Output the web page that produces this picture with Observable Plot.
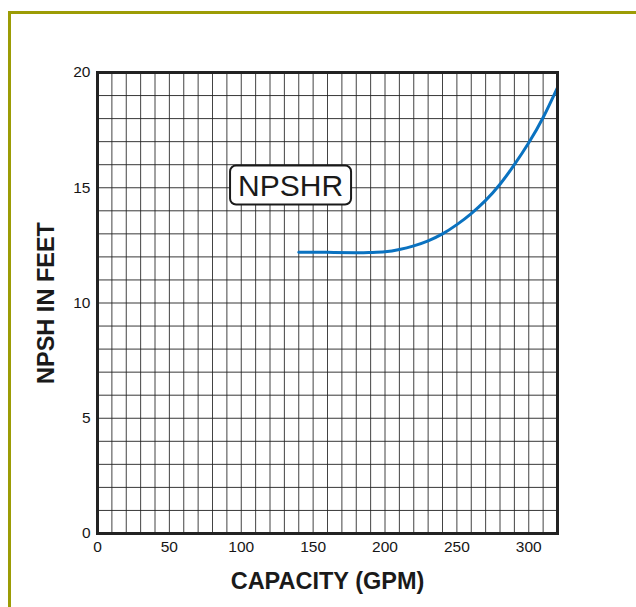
<!DOCTYPE html>
<html>
<head>
<meta charset="utf-8">
<script src="https://cdn.jsdelivr.net/npm/d3@7"></script>
<script src="https://cdn.jsdelivr.net/npm/@observablehq/plot@0.6"></script>
<style>
  html, body { margin: 0; padding: 0; background: #fff; }
  #wrap { position: relative; width: 636px; height: 607px; overflow: hidden; }
  #border { position: absolute; left: 8px; top: 11px; width: 700px; height: 700px;
            border-top: 3px solid #9c9c05; border-left: 3px solid #9c9c05; }
  #chart { position: absolute; left: 0; top: 0; }
</style>
</head>
<body>
<div id="wrap"><div id="border"></div><div id="chart"></div></div>
<script>
// Data
const capacity = [140, 160, 180, 190, 200, 210, 220, 230, 240, 250, 260, 270, 280, 290, 300, 310, 320];
const npshr    = [12.2, 12.2, 12.18, 12.19, 12.22, 12.32, 12.48, 12.7, 13.0, 13.4, 13.88, 14.45, 15.15, 16.0, 16.95, 18.05, 19.35];
const xTicks = [0, 50, 100, 150, 200, 250, 300];
const yTicks = [0, 5, 10, 15, 20];
const xGrid = d3.range(10, 320, 10);
const yGrid = d3.range(1, 20, 1);
const xTitle = "CAPACITY (GPM)";
const yTitle = "NPSH IN FEET";
const labels = [{text: "NPSHR", x: 134.3, y: 15.08}];

const curveData = capacity.map((c, i) => ({capacity: c, npshr: npshr[i]}));

const plot = Plot.plot({
  width: 636,
  height: 607,
  marginLeft: 97,
  marginRight: 79,
  marginTop: 72,
  marginBottom: 74,
  style: {fontFamily: "'Liberation Sans', Arial, Helvetica, sans-serif", fontSize: "15.5px", color: "#161616", background: "transparent"},
  x: {domain: [0, 320], ticks: xTicks, tickSize: 0, tickPadding: 7, label: null},
  y: {domain: [0, 20], ticks: yTicks, tickSize: 0, tickPadding: 7, label: null},
  marks: [
    Plot.ruleX(xGrid, {stroke: "#222", strokeWidth: 1, strokeOpacity: 0.85}),
    Plot.ruleY(yGrid, {stroke: "#222", strokeWidth: 1, strokeOpacity: 0.9}),
    Plot.line(curveData, {x: "capacity", y: "npshr", stroke: "#0a72c0", strokeWidth: 3, curve: "natural"}),
    Plot.frame({stroke: "#222", strokeWidth: 3}),
    Plot.text(labels, {x: "x", y: "y", text: "text", fontSize: 30, fill: "#1a1a1a"}),
    Plot.text([xTitle], {frameAnchor: "bottom", dy: 48, textAnchor: "middle", lineAnchor: "middle", fontSize: 23.5, fontWeight: "bold", fill: "#1a1a1a"}),
    Plot.text([yTitle], {frameAnchor: "left", dx: -50.7, rotate: -90, textAnchor: "middle", lineAnchor: "middle", fontSize: 23.5, fontWeight: "bold", fill: "#1a1a1a"})
  ]
});
document.getElementById("chart").appendChild(plot);

// Larger tick labels
plot.querySelectorAll('g[aria-label*="axis"]').forEach(g => { g.style.fontSize = "15.5px"; });

// Rounded white box behind the NPSHR label
const svgNS = "http://www.w3.org/2000/svg";
plot.querySelectorAll("text").forEach(t => {
  if (labels.some(l => l.text === t.textContent)) {
    const b = t.getBBox();
    const r = document.createElementNS(svgNS, "rect");
    r.setAttribute("x", b.x - 8);
    r.setAttribute("y", b.y - 3);
    r.setAttribute("width", b.width + 16);
    r.setAttribute("height", b.height + 6);
    r.setAttribute("rx", 6);
    r.setAttribute("fill", "#fff");
    r.setAttribute("stroke", "#1a1a1a");
    r.setAttribute("stroke-width", 2);
    const tr = t.getAttribute("transform");
    if (tr) r.setAttribute("transform", tr);
    t.parentNode.insertBefore(r, t);
  }
});
</script>
</body>
</html>
